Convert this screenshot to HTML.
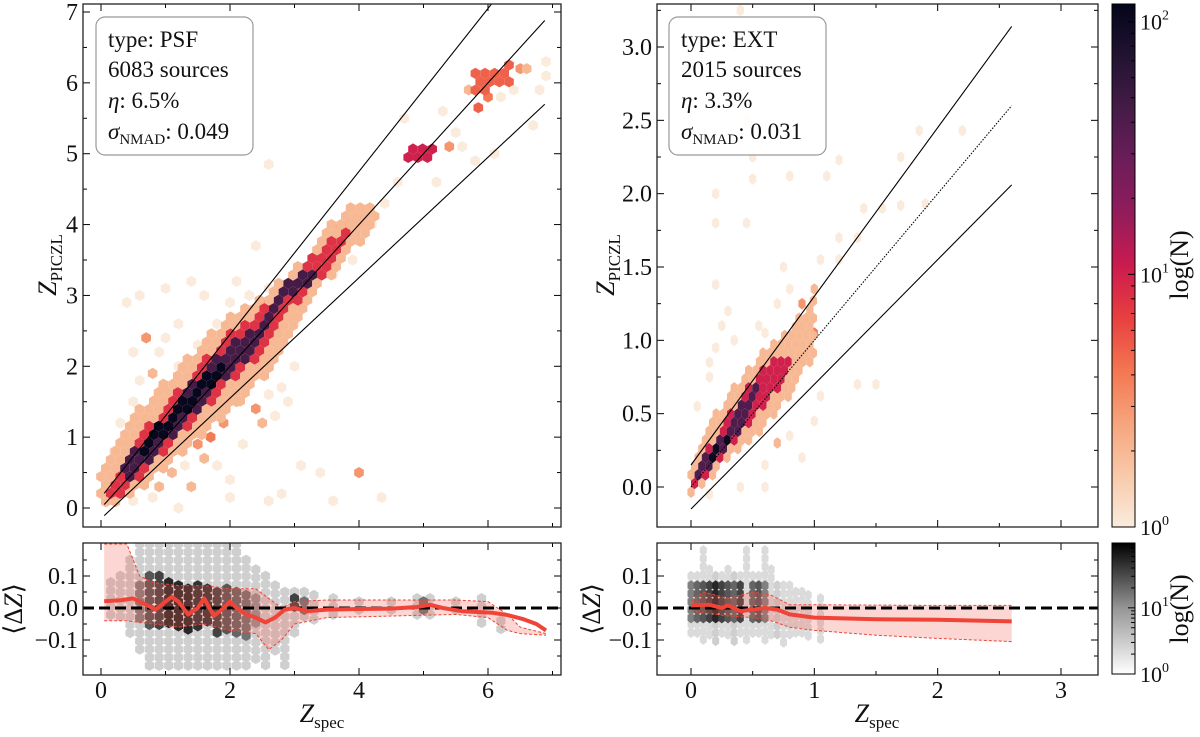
<!DOCTYPE html>
<html><head><meta charset="utf-8">
<style>
html,body{margin:0;padding:0;background:#fff;}
svg{display:block;font-family:"Liberation Serif","DejaVu Serif",serif;}
</style></head>
<body>
<svg id="fig" width="1200" height="737" viewBox="0 0 1200 737" xmlns="http://www.w3.org/2000/svg">
<defs>
<linearGradient id="rocketGrad" x1="0" y1="1" x2="0" y2="0">
<stop offset="0" stop-color="#faebdd"/><stop offset="0.1" stop-color="#f8c9a9"/><stop offset="0.2" stop-color="#f6a47b"/><stop offset="0.3" stop-color="#f37651"/><stop offset="0.4" stop-color="#e83f3f"/><stop offset="0.5" stop-color="#cb1b4f"/><stop offset="0.6" stop-color="#921c5b"/><stop offset="0.7" stop-color="#6c1d5a"/><stop offset="0.8" stop-color="#451c47"/><stop offset="0.9" stop-color="#221331"/><stop offset="1" stop-color="#03051a"/>
</linearGradient>
<linearGradient id="greyGrad" x1="0" y1="1" x2="0" y2="0">
<stop offset="0" stop-color="#ffffff"/><stop offset="0.5" stop-color="#969696"/><stop offset="1" stop-color="#000000"/>
</linearGradient>
</defs>
<g id="layer"></g>
</svg>
<script>
// ---------------- DATA ----------------
const bandL1X=[0,0.5,1,1.5,2,2.5,3,3.5,4,4.3];
const bandL1Lo=[0.0,0.15,0.55,0.95,1.35,1.8,2.5,3.2,3.7,4.0];
const bandL1Hi=[0.45,1.3,1.8,2.3,2.7,3.0,3.35,3.95,4.35,4.3];
const bandL1N=2;
const bandL2X=[0.1,0.5,1,1.5,2,2.5,3,3.5,3.8];
const bandL2Lo=[0.05,0.35,0.8,1.3,1.75,2.2,2.85,3.35,3.7];
const bandL2Hi=[0.3,0.9,1.45,2.0,2.5,2.8,3.25,3.8,3.95];
const bandL2N=8;
const bandL3X=[0.3,0.5,1,1.5,2,2.4,2.9,3.3];
const bandL3Lo=[0.3,0.45,0.9,1.4,1.9,2.2,2.95,3.15];
const bandL3Hi=[0.5,0.8,1.3,1.85,2.35,2.5,3.2,3.4];
const bandL3N=45;
const bandL4X=[0.5,1,1.5,1.9];
const bandL4Lo=[0.6,1.05,1.5,1.9];
const bandL4Hi=[0.75,1.3,1.75,2.1];
const bandL4N=110;
const bandL5X=[4.75,5.2];
const bandL5Lo=[4.85,4.9];
const bandL5Hi=[5.05,5.2];
const bandL5N=10;
const bandL6X=[5.8,6.4];
const bandL6Lo=[5.85,5.95];
const bandL6Hi=[6.15,6.3];
const bandL6N=5;

const leftHexX=[3.7,3.85,3.95,4.1,2.85,2.6,2.7,2.6,
5.4,5.7,6.0,5.85,6.5,6.6,6.9,6.9,
0.3,0.2,0.5,0.6,0.5,0.7,0.9,0.8,0.95,0.4,0.6,1.0,1.2,1.4,1.6,1.8,2.0,2.1,2.3,2.2,2.6,1.2,1.3,1.0,1.5,1.5,1.6,1.7,1.8,1.9,2.0,2.1,2.2,2.3,2.4,2.5,2.6,2.7,2.8,2.9,3.0,2.8,3.0,3.4,3.1,3.6,2.6,2.8,2.0,1.2,0.9,1.1,1.3,0.8,0.5,1.4,4.35,4.0,2.4,2.6,3.6,3.9,3.8,4.2,4.4,4.6,4.7,5.3,5.2,5.5,5.8,6.1,5.6,6.4,6.2,6.7,6.8];
const leftHexY=[3.95,4.0,4.1,4.15,2.8,2.9,2.5,2.2,
5.1,5.9,5.8,5.65,6.2,6.2,6.3,6.1,
1.2,0.8,1.5,1.8,2.2,2.4,2.2,1.9,1.7,2.9,3.0,3.1,2.6,3.2,3.0,2.6,2.9,3.2,3.0,2.7,3.1,2.0,1.8,2.4,2.3,0.9,0.7,1.0,0.6,1.2,0.4,1.5,0.9,1.8,1.4,1.2,1.6,1.3,1.7,1.5,2.0,2.3,2.6,0.5,0.6,0.1,0.1,0.2,0.15,0.0,0.3,0.5,0.6,0.15,0.1,0.3,0.15,0.5,3.7,4.85,3.3,3.5,3.7,4.0,4.3,4.6,5.5,5.6,4.6,5.3,4.9,5.0,5.1,5.9,5.8,5.4,5.9];
const leftHexN=[4,4,3,2,5,6,4,3,
3,2,4,5,3,2,1,1,
1,1,1,1,1,3,1,2,1,1,1,1,1,1,1,1,1,1,1,2,1,1,1,1,1,3,2,4,1,3,1,2,1,2,3,2,1,1,1,1,1,1,1,1,1,1,1,1,1,1,2,2,1,1,1,2,1,3,1,1,1,1,3,1,1,1,1,1,1,1,1,1,1,1,1,1,1];

const bandR1X=[0,0.2,0.4,0.6,0.8,1.0];
const bandR1Lo=[-0.05,0.1,0.25,0.4,0.6,0.9];
const bandR1Hi=[0.1,0.5,0.75,0.95,1.1,1.3];
const bandR1N=2;
const bandR2X=[0,0.2,0.4,0.6,0.8];
const bandR2Lo=[-0.02,0.15,0.35,0.55,0.75];
const bandR2Hi=[0.05,0.35,0.6,0.85,0.9];
const bandR2N=10;
const bandR3X=[0,0.2,0.4,0.55];
const bandR3Lo=[0,0.18,0.38,0.6];
const bandR3Hi=[0.08,0.3,0.55,0.75];
const bandR3N=40;
const bandR4X=[0.1,0.3];
const bandR4Lo=[0.1,0.3];
const bandR4Hi=[0.15,0.4];
const bandR4N=100;

const rightHexX=[0.05,0.15,0.25,0.3,0.2,0.15,0.2,0.35,0.55,0.6,0.7,0.75,0.8,0.9,0.95,0.85,1.0,1.05,1.2,1.2,1.35,1.4,1.55,1.7,1.9,1.85,2.2,1.7,1.2,0.8,1.1,0.5,0.5,0.2,0.45,0.2,0.4,0.35,0.45,1.35,1.05,1.0,0.8,1.5,0.6,0.6,0.9,0.15,0.4,0.4,0.7,0.9,1.0];
const rightHexY=[0.55,0.85,1.1,1.2,1.38,0.75,0.95,1.0,1.1,1.05,1.25,1.5,1.35,1.25,1.15,0.75,1.35,1.55,1.7,1.55,1.7,1.9,1.9,1.92,1.93,2.43,2.43,2.25,2.23,2.12,2.12,2.1,2.25,1.8,1.8,2.0,3.25,3.0,2.5,0.7,0.62,0.45,0.35,0.7,0.15,0.0,0.2,-0.05,0.3,0.0,0.3,1.25,1.05];
const rightHexN=[1,1,1,1,1,1,1,1,1,1,1,1,1,1,1,1,2,1,1,1,1,1,1,1,1,1,1,1,1,1,1,1,1,1,1,1,1,1,1,1,1,1,1,1,1,1,1,1,1,1,2,3,4];

const resLColX=[0.15,0.3,0.45,0.6,0.75,0.9,1.05,1.2,1.35,1.5,1.65,1.8,1.95,2.1,2.25,2.4,2.55,2.7,2.85,3.0,3.15,3.3,3.6,4.0,4.5,4.9,5.1,5.5,5.9,6.2,
0.6,0.75,0.9,1.05,1.2,1.35,1.5,1.65,1.8,1.95,2.1,2.25,2.4,3.0,3.15,5.0];
const resLColLo=[-0.04,-0.05,-0.1,-0.15,-0.2,-0.2,-0.2,-0.2,-0.2,-0.2,-0.2,-0.2,-0.2,-0.2,-0.2,-0.18,-0.2,-0.15,-0.2,-0.1,-0.05,-0.05,-0.04,-0.03,-0.03,-0.04,-0.03,-0.03,-0.05,-0.09,
-0.05,-0.07,-0.07,-0.06,-0.06,-0.07,-0.08,-0.06,-0.08,-0.09,-0.09,-0.09,-0.06,-0.02,-0.02,-0.01];
const resLColHi=[0.08,0.1,0.15,0.2,0.2,0.2,0.2,0.2,0.2,0.2,0.2,0.2,0.2,0.2,0.15,0.12,0.1,0.07,0.05,0.05,0.05,0.04,0.03,0.02,0.02,0.03,0.03,0.02,0.03,-0.04,
0.07,0.1,0.1,0.08,0.07,0.06,0.07,0.06,0.05,0.06,0.05,0.04,0.03,0.03,0.02,0.02];
const resLColN=[2,2,2,2,2,2,2,2,2,2,2,2,2,2,2,2,2,2,2,2,2,2,2,2,2,2,2,2,2,2,
8,15,20,30,30,30,25,25,20,15,12,10,6,20,10,10];

const resRColX=[0.0,0.05,0.1,0.15,0.2,0.25,0.3,0.35,0.4,0.45,0.5,0.55,0.6,0.65,0.7,0.75,0.8,0.85,0.9,0.95,1.05,
0.0,0.05,0.1,0.15,0.2,0.25,0.3,0.35,0.4,0.5,0.55,0.6];
const resRColLo=[-0.08,-0.08,-0.1,-0.1,-0.12,-0.1,-0.1,-0.12,-0.1,-0.1,-0.1,-0.08,-0.1,-0.1,-0.1,-0.12,-0.1,-0.1,-0.1,-0.1,-0.1,
-0.04,-0.04,-0.04,-0.04,-0.04,-0.04,-0.04,-0.04,-0.04,-0.04,-0.04,-0.04];
const resRColHi=[0.1,0.1,0.18,0.12,0.1,0.1,0.12,0.1,0.1,0.18,0.1,0.1,0.18,0.12,0.07,0.07,0.07,0.05,0.05,0.04,0.03,
0.07,0.07,0.07,0.07,0.07,0.07,0.07,0.07,0.07,0.07,0.07,0.07];
const resRColN=[1.5,1.5,1.5,1.5,2,1.5,1.5,2,1.5,1.5,1.5,1.5,1.5,1.5,2,1.5,1.5,1.5,1.5,1.5,1.5,
8,12,15,20,30,20,15,12,20,12,15,8];

const meanLX=[0.05,0.3,0.5,0.7,0.85,1.0,1.1,1.2,1.35,1.5,1.6,1.75,1.9,2.0,2.1,2.25,2.4,2.55,2.7,2.85,3.0,3.2,3.5,4.0,4.5,4.9,5.1,5.3,5.6,6.07,6.3,6.55,6.75,6.9];
const meanLY=[0.021,0.024,0.03,0.01,-0.005,0.02,0.035,0.02,-0.02,0.0,0.03,-0.025,0.0,0.02,0.0,-0.02,-0.03,-0.045,-0.03,-0.005,0.0,-0.01,-0.005,-0.003,-0.002,0.003,0.01,0.0,-0.01,-0.015,-0.022,-0.035,-0.05,-0.07];
const bandLX=[0.05,0.4,0.6,0.8,1.2,1.6,2.0,2.4,2.6,2.8,3.0,3.5,4.5,5.5,6.0,6.3,6.5,6.9];
const bandLUp=[0.2,0.2,0.1,0.08,0.07,0.07,0.06,0.06,0.03,0.0,0.02,0.025,0.025,0.025,0.02,-0.02,-0.06,-0.08];
const bandLLo=[-0.04,-0.04,-0.045,-0.05,-0.06,-0.05,-0.07,-0.08,-0.13,-0.1,-0.05,-0.03,-0.025,-0.02,-0.03,-0.07,-0.08,-0.085];
const meanRX=[0.0,0.15,0.25,0.3,0.4,0.5,0.6,0.7,0.8,1.0,1.5,2.0,2.6];
const meanRY=[0.008,0.01,0.0,0.008,-0.01,-0.005,0.0,-0.005,-0.02,-0.03,-0.035,-0.037,-0.042];
const bandRX=[0.0,0.1,0.3,0.5,0.65,0.8,1.0,1.5,2.0,2.6];
const bandRUp=[0.02,0.05,0.03,0.05,0.04,0.01,0.01,0.009,0.008,0.008];
const bandRLo=[-0.01,-0.015,-0.025,-0.03,-0.04,-0.06,-0.07,-0.085,-0.095,-0.105];

const textL=["type: PSF","6083 sources","6.5%","0.049"];
const textR=["type: EXT","2015 sources","3.3%","0.031"];

// ---------------- HELPERS ----------------
const NS="http://www.w3.org/2000/svg";
const layer=document.getElementById('layer');
function mk(tag,attrs,parent){const e=document.createElementNS(NS,tag);for(const k in attrs)e.setAttribute(k,attrs[k]);(parent||layer).appendChild(e);return e;}
function lin(d0,d1,p0,p1){const f=v=>p0+(v-d0)*(p1-p0)/(d1-d0);f.inv=p=>d0+(p-p0)*(d1-d0)/(p1-p0);return f;}
function lerpHex(a,b,t){const pa=[1,3,5].map(i=>parseInt(a.substr(i,2),16)),pb=[1,3,5].map(i=>parseInt(b.substr(i,2),16));return 'rgb('+pa.map((v,i)=>Math.round(v+(pb[i]-v)*t)).join(',')+')';}
const rocket=['#faebdd','#f8c9a9','#f6a47b','#f37651','#e83f3f','#cb1b4f','#921c5b','#6c1d5a','#451c47','#221331','#03051a'];
function cmap(stops,t){t=Math.max(0,Math.min(1,t));const s=t*(stops.length-1);const i=Math.min(stops.length-2,Math.floor(s));return lerpHex(stops[i],stops[i+1],s-i);}
function rocketColor(n){return cmap(rocket,Math.log10(n)/Math.log10(118));}
function greyColor(n){return cmap(['#ececec','#bdbdbd','#737373','#252525','#000000'],Math.log10(n)/Math.log10(96));}
function hexPts(cx,cy,w,h){return [[cx,cy-h],[cx+w,cy-h/2],[cx+w,cy+h/2],[cx,cy+h],[cx-w,cy+h/2],[cx-w,cy-h/2]].map(p=>p[0].toFixed(1)+','+p[1].toFixed(1)).join(' ');}
function interp(X,Y,x){if(x<X[0]||x>X[X.length-1])return null;for(let i=0;i<X.length-1;i++){if(x<=X[i+1]){const t=(x-X[i])/(X[i+1]-X[i]||1);return Y[i]+(Y[i+1]-Y[i])*t;}}return Y[Y.length-1];}

const P={
 LT:{x0:83,x1:561,y0:4,y1:527},
 LB:{x0:83,x1:561,y0:543,y1:675},
 RT:{x0:657,x1:1098,y0:4,y1:527},
 RB:{x0:657,x1:1098,y0:543,y1:675}
};
const xL=lin(0,6,101,488), yLT=lin(0,7,508,12);
const xR=lin(0,3,691,1061), yRT=lin(0,3,487,47);
const yB=lin(0,0.1,608,576);

function clip(id,p){const c=mk('clipPath',{id:id},document.querySelector('defs'));mk('rect',{x:p.x0,y:p.y0,width:p.x1-p.x0,height:p.y1-p.y0},c);}
clip('cLT',P.LT);clip('cLB',P.LB);clip('cRT',P.RT);clip('cRB',P.RB);

function fillLattice(g,layers,xs,ys,p,w,h,ox){
  let k=0;
  for(let py=p.y1;py>p.y0-h;py-=h*1.5,k++){
    for(let px=p.x0+ox+(k%2)*w;px<p.x1+w;px+=2*w){
      const dx=xs.inv(px),dy=ys.inv(py);let n=0;
      layers.forEach(L=>{const lo=interp(L[0],L[1],dx),hi=interp(L[0],L[2],dx);if(lo!==null&&dy>=lo&&dy<=hi)n=L[3];});
      if(n>0){const e=mk('polygon',{points:hexPts(px,py,w,h),fill:rocketColor(n)},g);
        
        }
    }
  }
}
function drawHexes(g,X,Y,N,xs,ys,w,h){
  for(let i=0;i<X.length;i++){
    const p=mk('polygon',{points:hexPts(xs(X[i]),ys(Y[i]),w,h),fill:rocketColor(N[i])},g);
    
    
  }
}
function drawCols(g,X,LO,HI,N,xs,w,h){
  for(let i=0;i<X.length;i++){
    const cx=xs(X[i]);const pTop=yB(HI[i]),pBot=yB(LO[i]);
    for(let py=pTop;py<=pBot+0.1;py+=h*1.5){
      const p=mk('polygon',{points:hexPts(cx,py,w,h),fill:greyColor(N[i])},g);
      
      
    }
  }
}
function poly(xs,ys,X,Y){return X.map((v,i)=>xs(v).toFixed(1)+','+ys(Y[i]).toFixed(1)).join(' ');}

function frameTicks(p,xs,ys,xMaj,xMin,yMaj,yMin,name){
  const g=mk('g',{});
  
  
  const L=7,m=4;
  xMaj.forEach(v=>{const x=xs(v);mk('line',{x1:x,x2:x,y1:p.y1,y2:p.y1-L,stroke:'#000','stroke-width':1},g);mk('line',{x1:x,x2:x,y1:p.y0,y2:p.y0+L,stroke:'#000','stroke-width':1},g);});
  xMin.forEach(v=>{const x=xs(v);mk('line',{x1:x,x2:x,y1:p.y1,y2:p.y1-m,stroke:'#000','stroke-width':1},g);mk('line',{x1:x,x2:x,y1:p.y0,y2:p.y0+m,stroke:'#000','stroke-width':1},g);});
  yMaj.forEach(v=>{const y=ys(v);mk('line',{x1:p.x0,x2:p.x0+L,y1:y,y2:y,stroke:'#000','stroke-width':1},g);mk('line',{x1:p.x1,x2:p.x1-L,y1:y,y2:y,stroke:'#000','stroke-width':1},g);});
  yMin.forEach(v=>{const y=ys(v);mk('line',{x1:p.x0,x2:p.x0+m,y1:y,y2:y,stroke:'#000','stroke-width':1},g);mk('line',{x1:p.x1,x2:p.x1-m,y1:y,y2:y,stroke:'#000','stroke-width':1},g);});
  mk('rect',{x:p.x0,y:p.y0,width:p.x1-p.x0,height:p.y1-p.y0,fill:'none',stroke:'#222','stroke-width':1.3},g);
}
function text(x,y,s,opt,name){
  const t=mk('text',Object.assign({x:x,y:y,'font-size':24,fill:'#111'},opt||{}));
  t.textContent=s;
  
  
  return t;
}

function topPanel(key,layers,X,Y,N,xs,ys,w,h,lineX1,dotted,name){
  const g=mk('g',{'clip-path':'url(#c'+key+')'});
  
  
  drawHexes(g,X,Y,N,xs,ys,w,h);
  fillLattice(g,layers,xs,ys,P[key],w,h,(xs(0)-P[key].x0)%(2*w));
  const x0=key==='LT'?0.05:0.0;
  const lines=[[0.15,'upper-outlier-line'],[0,'one-to-one-line'],[-0.15,'lower-outlier-line']];
  lines.forEach(([f,nm])=>{
    const l=mk('line',{x1:xs(x0),y1:ys(x0+f*(1+x0)),x2:xs(lineX1),y2:ys(lineX1+f*(1+lineX1)),stroke:'#000','stroke-width':1.1},g);
    if(f===0&&dotted)l.setAttribute('stroke-dasharray','1.5,1.5');
    
    
  });
}
const layersL=[[bandL1X,bandL1Lo,bandL1Hi,bandL1N],[bandL2X,bandL2Lo,bandL2Hi,bandL2N],[bandL3X,bandL3Lo,bandL3Hi,bandL3N],[bandL4X,bandL4Lo,bandL4Hi,bandL4N],[bandL5X,bandL5Lo,bandL5Hi,bandL5N],[bandL6X,bandL6Lo,bandL6Hi,bandL6N]];
const layersR=[[bandR1X,bandR1Lo,bandR1Hi,bandR1N],[bandR2X,bandR2Lo,bandR2Hi,bandR2N],[bandR3X,bandR3Lo,bandR3Hi,bandR3N],[bandR4X,bandR4Lo,bandR4Hi,bandR4N]];
topPanel('LT',layersL,leftHexX,leftHexY,leftHexN,xL,yLT,4.8,5.6,6.88,false,'psf-hexbin-panel');
topPanel('RT',layersR,rightHexX,rightHexY,rightHexN,xR,yRT,3.6,5.8,2.6,true,'ext-hexbin-panel');

frameTicks(P.LT,xL,yLT,[0,2,4,6],[1,3,5,7],[0,1,2,3,4,5,6,7],[0.5,1.5,2.5,3.5,4.5,5.5,6.5],'psf-panel-frame');
frameTicks(P.RT,xR,yRT,[0,1,2,3],[0.5,1.5,2.5],[0,0.5,1,1.5,2,2.5,3],[0.25,0.75,1.25,1.75,2.25,2.75,3.25],'ext-panel-frame');

[0,1,2,3,4,5,6,7].forEach(v=>text(78,yLT(v)+8,String(v),{'text-anchor':'end'},'y-tick-label'));
[0,0.5,1,1.5,2,2.5,3].forEach(v=>text(652,yRT(v)+8,v.toFixed(1),{'text-anchor':'end'},'y-tick-label'));

function statBox(x,y,lines,name){
  const g=mk('g',{});
  
  
  mk('rect',{x:x,y:y,width:157,height:138,rx:9,fill:'#fff','fill-opacity':0.85,stroke:'#999','stroke-width':1.2},g);
  const tx=x+12,fs=23;
  let t=mk('text',{x:tx,y:y+30,'font-size':fs,fill:'#111'},g);t.textContent=lines[0];
  t=mk('text',{x:tx,y:y+60,'font-size':fs,fill:'#111'},g);t.textContent=lines[1];
  t=mk('text',{x:tx,y:y+91,'font-size':fs,fill:'#111'},g);
  t.innerHTML='<tspan font-style="italic">η</tspan>: '+lines[2];
  t=mk('text',{x:tx,y:y+122,'font-size':fs,fill:'#111'},g);
  t.innerHTML='<tspan font-style="italic">σ</tspan><tspan font-size="15" dy="5">NMAD</tspan><tspan dy="-5">: '+lines[3]+'</tspan>';
}
statBox(96,17,textL,'psf-stats-box');
statBox(669,17,textR,'ext-stats-box');

function ylabel(x,y,html,name){const t=mk('text',{x:0,y:0,'font-size':26,fill:'#111','text-anchor':'middle',transform:'translate('+x+','+y+') rotate(-90)'});t.innerHTML=html;}
ylabel(56,265,'<tspan font-style="italic">Z</tspan><tspan font-size="17" dy="6">PICZL</tspan>','y-axis-title');
ylabel(614,265,'<tspan font-style="italic">Z</tspan><tspan font-size="17" dy="6">PICZL</tspan>','y-axis-title');
ylabel(22,609,'⟨Δ<tspan font-style="italic">Z</tspan>⟩','residual-y-axis-title');
ylabel(600,609,'⟨Δ<tspan font-style="italic">Z</tspan>⟩','residual-y-axis-title');

function bottomPanel(key,CX,CLO,CHI,CN,xs,w,h,bX,bUp,bLo,mX,mY,name){
  const g=mk('g',{'clip-path':'url(#c'+key+')'});
  
  
  drawCols(g,CX,CLO,CHI,CN,xs,w,h);
  const band=mk('polygon',{points:poly(xs,yB,bX,bUp)+' '+poly(xs,yB,bX.slice().reverse(),bLo.slice().reverse()),fill:'#f15a4a','fill-opacity':0.25,stroke:'none'},g);
  
  
  [bUp,bLo].forEach(arr=>{const l=mk('polyline',{points:poly(xs,yB,bX,arr),fill:'none',stroke:'#f04438','stroke-width':1,'stroke-dasharray':'3,2'},g);
    
    });
  const z=mk('line',{x1:P[key].x0,x2:P[key].x1,y1:yB(0),y2:yB(0),stroke:'#000','stroke-width':3,'stroke-dasharray':'11,5'},g);
  
  
  const m=mk('polyline',{points:poly(xs,yB,mX,mY),fill:'none',stroke:'#f04438','stroke-width':4,'stroke-linejoin':'round'},g);
  
  
}
bottomPanel('LB',resLColX,resLColLo,resLColHi,resLColN,xL,4.6,5.4,bandLX,bandLUp,bandLLo,meanLX,meanLY,'psf-residual-panel');
bottomPanel('RB',resRColX,resRColLo,resRColHi,resRColN,xR,3.5,5.4,bandRX,bandRUp,bandRLo,meanRX,meanRY,'ext-residual-panel');
frameTicks(P.LB,xL,yB,[0,2,4,6],[1,3,5,7],[-0.1,0,0.1],[-0.15,-0.05,0.05,0.15],'psf-residual-frame');
frameTicks(P.RB,xR,yB,[0,1,2,3],[0.5,1.5,2.5],[-0.1,0,0.1],[-0.15,-0.05,0.05,0.15],'ext-residual-frame');
[-0.1,0,0.1].forEach(v=>{text(78,yB(v)+8,(v<0?'−':'')+Math.abs(v).toFixed(1),{'text-anchor':'end'},'y-tick-label');text(652,yB(v)+8,(v<0?'−':'')+Math.abs(v).toFixed(1),{'text-anchor':'end'},'y-tick-label');});
[0,2,4,6].forEach(v=>text(xL(v),698,String(v),{'text-anchor':'middle'},'x-tick-label'));
[0,1,2,3].forEach(v=>text(xR(v),698,String(v),{'text-anchor':'middle'},'x-tick-label'));
function xlabel(x,name){const t=mk('text',{x:x,y:722,'font-size':26,fill:'#111','text-anchor':'middle'});t.innerHTML='<tspan font-style="italic">Z</tspan><tspan font-size="17" dy="6">spec</tspan>';}
xlabel(322,'x-axis-title');xlabel(877,'x-axis-title');

function colorbar(y0,y1,grad,decMax,majors,name){
  const g=mk('g',{});
  
  
  mk('rect',{x:1112,y:y0,width:23,height:y1-y0,fill:'url(#'+grad+')',stroke:'#000','stroke-width':1},g);
  const cy=v=>y1-(Math.log10(v)/decMax)*(y1-y0);
  for(let d=0;d<3;d++)for(let k=1;k<10;k++){const v=k*Math.pow(10,d);if(Math.log10(v)>decMax)continue;const y=cy(v);const L=k===1?7:4;mk('line',{x1:1135,x2:1135-L,y1:y,y2:y,stroke:'#000','stroke-width':1},g);}
  majors.forEach(d=>{const t=mk('text',{x:1140,y:cy(Math.pow(10,d))+8,'font-size':22,fill:'#111'},g);t.innerHTML='10<tspan font-size="14" dy="-10">'+d+'</tspan>';});
}
colorbar(4,527,'rocketGrad',2.07,[0,1,2],'density-colorbar');
colorbar(543,674,'greyGrad',1.98,[0,1],'residual-colorbar');
ylabel(1188,265,'log(N)','colorbar-label');
ylabel(1188,609,'log(N)','colorbar-label');
</script>
</body></html>
